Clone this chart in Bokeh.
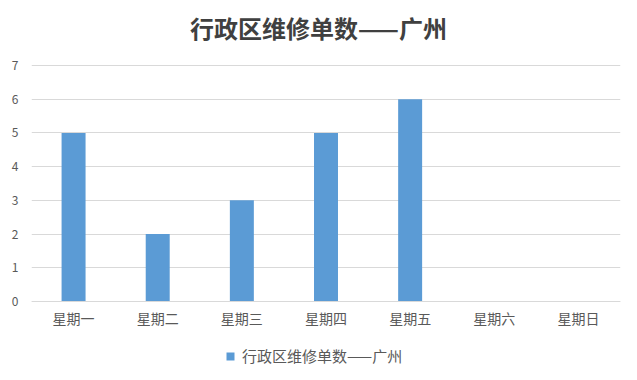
from bokeh.plotting import figure
from bokeh.models import Legend, LegendItem, FactorRange, Range1d, FixedTicker, Label
from bokeh.embed import file_html
from bokeh.resources import INLINE

days = ["星期一", "星期二", "星期三", "星期四", "星期五", "星期六", "星期日"]
counts = [5, 2, 3, 5, 6, 0, 0]
series_name = "行政区维修单数——广州"
title_text = "行政区维修单数——广州"
y_ticks = [0, 1, 2, 3, 4, 5, 6, 7]

FONT = "Noto Sans CJK SC"

# frame spans the whole height; the value axis 0..7 covers 236 px of it
px_per_unit = 236 / 7
y_bottom = -74 / px_per_unit
y_top = 7 + 65 / px_per_unit

p = figure(frame_width=589, frame_height=375, x_range=FactorRange(*days, range_padding=0),
           y_range=Range1d(y_bottom, y_top), output_backend="svg", toolbar_location=None,
           min_border_left=31, min_border_right=17, min_border_top=0, min_border_bottom=0)

r = p.vbar(x=days, top=counts, width=0.285, color="#5B9BD5", line_color=None)

title = Label(x=287, y=348, x_units="screen", y_units="screen", text=title_text,
              text_align="center", text_baseline="middle", text_font=FONT,
              text_font_size="24px", text_font_style="bold", text_color="#404040")
p.add_layout(title)

p.outline_line_color = None
p.background_fill_color = "white"
p.border_fill_color = "white"

p.xgrid.grid_line_color = None
p.ygrid.grid_line_color = "#d9d9d9"
p.ygrid.ticker = FixedTicker(ticks=y_ticks)

p.yaxis.ticker = FixedTicker(ticks=y_ticks)
p.yaxis.axis_line_color = None
p.yaxis.major_tick_line_color = None
p.yaxis.minor_tick_line_color = None
p.yaxis.major_label_text_font = FONT
p.yaxis.major_label_text_font_size = "12px"
p.yaxis.major_label_text_color = "#595959"
p.yaxis.major_label_standoff = 7

p.xaxis.fixed_location = 0
p.xaxis.axis_line_color = "#d9d9d9"
p.xaxis.major_tick_line_color = None
p.xaxis.minor_tick_line_color = None
p.xaxis.major_label_text_font = FONT
p.xaxis.major_label_text_font_size = "14px"
p.xaxis.major_label_text_color = "#595959"
p.xaxis.major_label_standoff = 0

legend = Legend(items=[LegendItem(label=series_name, renderers=[r])],
                orientation="horizontal", location=(194, 9),
                label_text_font=FONT, label_text_font_size="15px",
                label_text_color="#595959", glyph_width=10, glyph_height=10,
                label_height=16,
                border_line_color=None, background_fill_alpha=0,
                label_standoff=7, padding=4, margin=0)
p.add_layout(legend, "center")

open("out.html", "w").write(file_html(p, INLINE))
